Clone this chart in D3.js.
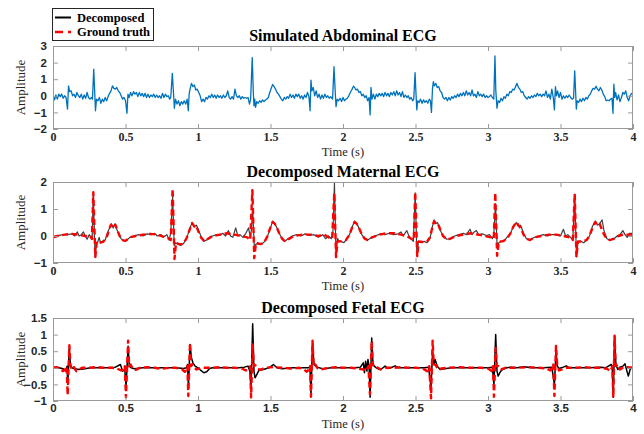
<!DOCTYPE html>
<html>
<head>
<meta charset="utf-8">
<script src="https://cdn.jsdelivr.net/npm/d3@7"></script>
<style>
  html, body { margin: 0; padding: 0; background: #fff; }
  svg { display: block; }
</style>
</head>
<body>
<svg id="chart" width="644" height="434"></svg>
<script>
// ---- data: [time (s), amplitude] ----
const abdominal = [
  [0.00,0.0],[0.01,-0.25],[0.02,0.05],[0.03,-0.2],[0.04,0.1],[0.05,-0.05],[0.06,0.1],[0.07,-0.15],[0.08,0.0],[0.09,-0.1],
  [0.10,-0.8],[0.107,0.6],[0.115,0.25],[0.125,0.3],[0.135,0.0],[0.145,0.1],[0.155,-0.1],[0.165,0.2],[0.175,0.0],[0.185,-0.1],
  [0.195,0.1],[0.205,-0.2],[0.215,0.05],[0.225,-0.15],[0.235,0.2],[0.245,-0.1],[0.255,-0.2],[0.265,-0.1],[0.272,-0.2],
  [0.281,1.6],[0.293,-0.9],[0.30,-0.2],[0.31,-0.3],[0.32,-0.1],[0.33,-0.45],[0.34,-0.2],[0.35,-0.35],[0.36,-0.1],[0.37,-0.3],
  [0.38,-0.05],[0.39,0.15],[0.40,0.3],[0.41,0.6],[0.42,0.45],[0.43,0.4],[0.44,0.5],[0.45,0.3],[0.46,0.2],[0.47,0.0],
  [0.48,-0.2],[0.49,-0.1],[0.50,-0.3],[0.51,-1.05],[0.517,0.1],[0.525,-0.1],[0.535,0.2],[0.545,0.0],[0.555,0.25],[0.565,0.1],
  [0.575,0.2],[0.585,-0.05],[0.595,0.2],[0.605,0.0],[0.615,0.15],[0.625,-0.05],[0.635,0.15],[0.645,-0.1],[0.655,0.1],[0.665,-0.1],
  [0.675,0.05],[0.685,-0.05],[0.695,0.1],[0.705,-0.1],[0.715,0.05],[0.725,-0.1],[0.735,0.0],[0.745,-0.15],[0.755,0.15],[0.765,-0.1],
  [0.775,0.1],[0.785,-0.05],[0.795,0.0],[0.805,-0.2],[0.812,-0.1],[0.823,1.35],[0.83,0.3],[0.837,-0.75],[0.845,-0.2],[0.855,-0.5],
  [0.865,-0.3],[0.875,-0.6],[0.885,-0.35],[0.895,-0.5],[0.905,-0.3],[0.915,-0.5],[0.925,-0.2],[0.933,-0.9],[0.939,0.1],[0.945,0.4],
  [0.955,0.75],[0.965,0.55],[0.975,0.65],[0.985,0.35],[0.995,0.4],[1.005,0.2],[1.015,0.0],[1.025,-0.35],[1.035,-0.2],[1.045,-0.35],
  [1.055,-0.1],[1.065,-0.2],[1.075,0.0],[1.085,-0.1],[1.095,0.1],[1.105,-0.1],[1.115,0.05],[1.125,-0.15],[1.135,0.05],[1.145,-0.1],
  [1.155,0.0],[1.165,-0.15],[1.175,0.05],[1.185,-0.1],[1.195,0.0],[1.205,0.3],[1.215,-0.1],[1.225,-0.2],[1.235,-0.05],[1.245,-0.2],
  [1.255,0.4],[1.265,0.0],[1.275,-0.1],[1.285,0.0],[1.295,-0.2],[1.305,-0.05],[1.315,-0.15],[1.325,-0.1],[1.335,-0.15],[1.345,-0.1],
  [1.355,-0.5],[1.363,-0.2],[1.374,2.3],[1.381,0.3],[1.386,-0.6],[1.391,-0.2],[1.397,-0.7],[1.405,-0.35],[1.415,-0.45],[1.425,-0.3],
  [1.435,-0.4],[1.445,-0.25],[1.455,-0.35],[1.465,-0.25],[1.475,-0.2],[1.485,-0.1],[1.495,0.2],[1.505,0.45],[1.515,0.68],[1.525,0.55],
  [1.535,0.4],[1.545,0.2],[1.555,0.1],[1.565,-0.05],[1.575,-0.2],[1.585,-0.3],[1.595,-0.1],[1.605,-0.2],[1.615,-0.05],[1.625,-0.15],
  [1.635,0.1],[1.645,-0.1],[1.655,0.05],[1.665,-0.15],[1.675,0.1],[1.685,-0.05],[1.695,0.1],[1.705,-0.15],[1.715,0.0],[1.725,-0.2],
  [1.735,0.05],[1.745,-0.1],[1.755,0.2],[1.765,-0.05],[1.773,-0.9],[1.779,0.95],[1.786,0.3],[1.795,0.5],[1.805,0.0],[1.815,0.3],
  [1.825,-0.1],[1.835,0.1],[1.845,-0.2],[1.855,0.05],[1.865,-0.15],[1.875,0.1],[1.885,-0.1],[1.895,0.0],[1.905,-0.15],[1.915,-0.05],
  [1.928,-0.2],[1.938,1.75],[1.946,0.3],[1.952,-0.65],[1.96,-0.2],[1.97,-0.3],[1.98,-0.15],[1.99,-0.35],[2.00,-0.1],[2.01,-0.3],
  [2.02,-0.2],[2.03,-0.15],[2.04,0.0],[2.05,0.2],[2.06,0.35],[2.072,0.58],[2.08,0.5],[2.09,0.35],[2.10,0.4],[2.11,0.2],
  [2.12,0.25],[2.13,0.0],[2.14,0.1],[2.15,-0.1],[2.16,0.0],[2.17,-0.3],[2.18,-0.1],[2.187,-1.15],[2.193,0.5],[2.20,-0.2],
  [2.21,0.1],[2.22,-0.2],[2.23,0.1],[2.24,-0.05],[2.25,0.15],[2.26,0.0],[2.27,0.15],[2.28,-0.05],[2.29,0.2],[2.30,0.0],
  [2.31,0.15],[2.32,-0.05],[2.33,0.2],[2.34,0.05],[2.35,0.25],[2.36,0.0],[2.37,0.3],[2.38,0.05],[2.39,0.2],[2.40,-0.05],
  [2.41,0.25],[2.42,-0.1],[2.43,0.05],[2.44,-0.1],[2.45,0.0],[2.46,-0.2],[2.47,-0.1],[2.48,-0.3],[2.488,-0.2],[2.497,1.4],
  [2.503,0.2],[2.509,-0.85],[2.515,-0.3],[2.525,-0.4],[2.535,-0.2],[2.545,-0.45],[2.555,-0.25],[2.565,-0.4],[2.575,-0.3],[2.585,-0.45],
  [2.595,-0.2],[2.603,-0.3],[2.61,-1.0],[2.617,0.4],[2.623,0.85],[2.63,0.6],[2.64,0.75],[2.65,0.5],[2.66,0.55],[2.67,0.3],
  [2.68,0.2],[2.69,-0.1],[2.70,-0.2],[2.71,-0.1],[2.72,-0.3],[2.73,-0.1],[2.74,-0.25],[2.75,-0.05],[2.76,-0.15],[2.77,0.0],
  [2.78,-0.1],[2.79,0.1],[2.80,-0.05],[2.81,0.15],[2.82,0.0],[2.83,0.2],[2.84,0.0],[2.85,0.3],[2.86,0.05],[2.87,0.2],
  [2.88,0.0],[2.89,0.35],[2.90,0.0],[2.91,0.1],[2.92,-0.1],[2.93,0.25],[2.94,0.0],[2.95,0.1],[2.96,-0.05],[2.97,0.1],
  [2.98,-0.1],[2.99,0.0],[3.00,-0.1],[3.01,-0.05],[3.02,0.05],[3.03,-0.1],[3.04,-0.2],[3.048,2.4],[3.054,0.3],[3.062,-0.75],
  [3.07,-0.3],[3.08,-0.4],[3.09,-0.15],[3.10,-0.3],[3.11,-0.05],[3.12,-0.15],[3.13,0.1],[3.14,0.0],[3.15,0.25],[3.16,0.2],
  [3.17,0.4],[3.18,0.35],[3.19,0.55],[3.20,0.75],[3.21,0.5],[3.22,0.4],[3.23,0.2],[3.24,0.25],[3.25,0.0],[3.26,-0.1],
  [3.27,-0.2],[3.28,-0.05],[3.29,-0.15],[3.30,0.0],[3.31,-0.1],[3.32,0.05],[3.33,-0.05],[3.34,0.15],[3.35,0.0],[3.36,0.1],
  [3.37,-0.05],[3.38,0.1],[3.39,0.0],[3.40,0.3],[3.41,-0.1],[3.42,0.1],[3.43,-0.2],[3.44,0.4],[3.45,-0.1],[3.458,-0.85],
  [3.465,0.55],[3.472,0.0],[3.48,0.3],[3.49,-0.1],[3.50,0.2],[3.51,-0.2],[3.52,0.0],[3.53,-0.15],[3.54,0.0],[3.55,-0.1],
  [3.56,0.05],[3.57,-0.1],[3.58,-0.2],[3.59,-0.15],[3.598,1.5],[3.604,0.3],[3.609,-0.8],[3.615,-0.3],[3.625,-0.4],[3.635,-0.2],
  [3.645,-0.35],[3.655,-0.15],[3.665,-0.3],[3.675,-0.1],[3.685,-0.2],[3.695,0.0],[3.705,0.1],[3.715,0.3],[3.725,0.45],[3.735,0.4],
  [3.745,0.58],[3.755,0.4],[3.765,0.3],[3.775,0.5],[3.785,0.35],[3.795,0.1],[3.805,-0.05],[3.815,-0.3],[3.825,-0.25],[3.835,-0.3],
  [3.845,-0.2],[3.855,-0.15],[3.862,-1.05],[3.868,0.7],[3.874,-0.1],[3.88,0.2],[3.89,-0.25],[3.90,0.05],[3.91,-0.35],[3.92,-0.1],
  [3.93,0.2],[3.94,0.1],[3.95,0.3],[3.96,-0.1],[3.97,-0.3],[3.98,0.0],[3.99,0.15],[4.00,0.1]
];

const maternalDecomposed = [
  [0.00,-0.1],[0.015,0.0],[0.04,0.02],[0.07,0.05],[0.10,0.05],[0.13,0.08],[0.15,0.0],[0.168,0.15],[0.18,0.0],[0.195,0.05],
  [0.21,0.15],[0.222,0.0],[0.235,-0.12],[0.25,0.05],[0.262,-0.05],[0.27,-0.12],[0.278,1.6],[0.29,-0.75],[0.30,-0.3],[0.31,-0.2],
  [0.318,-0.05],[0.328,-0.25],[0.34,-0.2],[0.36,-0.15],[0.375,0.1],[0.39,0.3],[0.402,0.45],[0.415,0.3],[0.428,0.45],[0.44,0.25],
  [0.455,0.05],[0.47,-0.1],[0.49,-0.18],[0.51,-0.15],[0.53,-0.05],[0.56,0.0],[0.59,0.05],[0.62,0.0],[0.65,0.08],[0.68,0.05],
  [0.70,0.1],[0.72,0.0],[0.745,0.05],[0.76,-0.05],[0.785,0.05],[0.80,-0.15],[0.812,0.1],[0.825,1.45],[0.836,-0.35],[0.846,-0.25],
  [0.86,-0.3],[0.88,-0.35],[0.90,-0.28],[0.915,-0.15],[0.93,0.05],[0.945,0.3],[0.96,0.5],[0.975,0.35],[0.99,0.4],[1.005,0.2],
  [1.02,0.0],[1.04,-0.2],[1.06,-0.15],[1.08,-0.05],[1.10,0.0],[1.13,0.05],[1.15,0.02],[1.17,0.1],[1.19,0.0],[1.21,0.2],
  [1.225,0.0],[1.24,-0.05],[1.26,0.3],[1.275,0.0],[1.29,0.05],[1.31,-0.05],[1.33,0.1],[1.348,0.3],[1.36,0.0],[1.368,0.2],
  [1.377,1.0],[1.388,-0.4],[1.40,-0.3],[1.42,-0.28],[1.44,-0.3],[1.46,-0.2],[1.48,0.0],[1.50,0.3],[1.515,0.55],[1.53,0.45],
  [1.545,0.3],[1.56,0.1],[1.58,-0.1],[1.60,-0.2],[1.62,-0.1],[1.65,0.0],[1.68,0.05],[1.71,0.0],[1.74,0.08],[1.77,0.02],
  [1.80,0.05],[1.83,-0.05],[1.86,0.05],[1.88,-0.1],[1.90,0.0],[1.92,-0.1],[1.93,0.05],[1.941,1.96],[1.952,-0.78],[1.962,-0.1],
  [1.975,-0.2],[1.99,-0.2],[2.005,-0.25],[2.02,-0.15],[2.045,0.05],[2.065,0.35],[2.08,0.55],[2.095,0.45],[2.11,0.3],[2.13,0.05],
  [2.15,-0.1],[2.17,-0.15],[2.20,-0.05],[2.23,0.02],[2.26,0.08],[2.29,0.05],[2.32,0.1],[2.35,0.05],[2.38,0.08],[2.40,0.15],
  [2.415,0.0],[2.44,0.2],[2.455,0.0],[2.47,-0.1],[2.485,-0.2],[2.498,1.6],[2.51,-0.73],[2.52,-0.22],[2.54,-0.25],[2.56,-0.2],
  [2.58,-0.25],[2.60,-0.1],[2.615,0.3],[2.628,0.6],[2.64,0.45],[2.652,0.5],[2.668,0.25],[2.69,0.0],[2.715,-0.12],[2.74,-0.1],
  [2.77,0.0],[2.80,0.05],[2.83,0.1],[2.85,0.05],[2.876,0.25],[2.89,0.05],[2.905,0.15],[2.92,0.2],[2.935,0.05],[2.96,0.08],
  [2.99,0.02],[3.01,0.05],[3.03,-0.1],[3.04,0.05],[3.052,1.2],[3.063,-0.4],[3.075,-0.25],[3.09,-0.2],[3.11,-0.2],[3.13,-0.05],
  [3.155,0.1],[3.175,0.35],[3.195,0.5],[3.21,0.35],[3.225,0.4],[3.245,0.1],[3.265,-0.1],[3.29,-0.15],[3.32,-0.05],[3.35,0.0],
  [3.38,0.05],[3.41,0.0],[3.44,0.05],[3.47,0.05],[3.50,0.0],[3.52,0.25],[3.535,0.0],[3.55,0.05],[3.57,-0.05],[3.585,-0.15],
  [3.598,1.55],[3.61,-0.78],[3.62,-0.25],[3.64,-0.2],[3.66,-0.25],[3.68,-0.15],[3.70,0.0],[3.72,0.35],[3.74,0.55],[3.755,0.4],
  [3.77,0.45],[3.787,0.6],[3.80,0.2],[3.82,-0.1],[3.84,-0.15],[3.87,-0.1],[3.89,0.0],[3.91,0.05],[3.93,0.2],[3.945,0.05],
  [3.96,-0.05],[3.975,0.1],[4.00,0.1]
];

const maternalTruth = [
  [0.00,-0.05],[0.03,0.0],[0.08,0.05],[0.13,0.08],[0.18,0.05],[0.22,0.0],[0.255,0.0],[0.268,-0.1],[0.278,1.62],[0.292,-0.78],
  [0.302,-0.2],[0.32,-0.25],[0.345,-0.22],[0.37,-0.05],[0.385,0.2],[0.40,0.42],[0.415,0.3],[0.43,0.42],[0.445,0.2],[0.46,0.0],
  [0.48,-0.15],[0.50,-0.18],[0.53,-0.05],[0.57,0.0],[0.62,0.05],[0.67,0.08],[0.72,0.05],[0.76,-0.02],[0.80,-0.1],[0.812,-0.15],
  [0.825,1.75],[0.838,-0.85],[0.848,-0.25],[0.87,-0.3],[0.895,-0.3],[0.92,-0.1],[0.94,0.2],[0.96,0.48],[0.975,0.35],[0.985,0.4],
  [1.00,0.2],[1.02,-0.05],[1.045,-0.2],[1.07,-0.1],[1.10,0.0],[1.15,0.05],[1.20,0.1],[1.25,0.05],[1.30,0.0],[1.34,-0.05],
  [1.36,-0.15],[1.375,1.7],[1.388,-0.82],[1.40,-0.25],[1.43,-0.3],[1.455,-0.25],[1.475,-0.05],[1.495,0.25],[1.515,0.52],[1.53,0.45],
  [1.545,0.3],[1.56,0.1],[1.58,-0.1],[1.60,-0.2],[1.63,-0.1],[1.66,0.0],[1.72,0.05],[1.78,0.05],[1.83,0.0],[1.87,0.05],
  [1.90,-0.05],[1.925,-0.1],[1.94,1.6],[1.952,-0.78],[1.962,-0.2],[1.99,-0.2],[2.02,-0.15],[2.045,0.05],[2.065,0.35],[2.08,0.52],
  [2.095,0.45],[2.11,0.3],[2.13,0.05],[2.15,-0.1],[2.17,-0.15],[2.20,-0.05],[2.25,0.05],[2.30,0.1],[2.35,0.1],[2.40,0.05],
  [2.44,0.0],[2.47,-0.1],[2.488,-0.15],[2.498,1.63],[2.512,-0.75],[2.522,-0.2],[2.55,-0.22],[2.58,-0.2],[2.60,-0.05],[2.615,0.3],
  [2.628,0.55],[2.64,0.45],[2.655,0.45],[2.67,0.25],[2.69,0.0],[2.715,-0.12],[2.74,-0.1],[2.78,0.0],[2.83,0.05],[2.88,0.1],
  [2.93,0.05],[2.98,0.0],[3.02,-0.05],[3.04,-0.1],[3.05,1.6],[3.063,-0.73],[3.075,-0.2],[3.10,-0.2],[3.13,-0.1],[3.155,0.1],
  [3.175,0.35],[3.195,0.52],[3.21,0.4],[3.225,0.3],[3.245,0.05],[3.265,-0.1],[3.29,-0.15],[3.32,-0.05],[3.37,0.0],[3.42,0.05],
  [3.47,0.05],[3.52,0.0],[3.56,-0.05],[3.585,-0.15],[3.598,1.57],[3.61,-0.78],[3.62,-0.2],[3.65,-0.2],[3.68,-0.15],[3.70,0.0],
  [3.72,0.3],[3.74,0.52],[3.755,0.4],[3.77,0.45],[3.785,0.25],[3.80,0.05],[3.82,-0.1],[3.84,-0.15],[3.87,-0.1],[3.90,0.0],
  [3.93,0.05],[3.96,0.05],[4.00,0.05]
];

const fetalDecomposed = [
  [0.00,0.02],[0.04,0.0],[0.07,-0.03],[0.09,-0.1],[0.097,0.05],[0.102,-0.5],[0.112,0.6],[0.12,0.1],[0.13,0.0],[0.15,-0.03],
  [0.18,-0.05],[0.22,-0.03],[0.26,0.0],[0.32,0.0],[0.38,0.0],[0.43,0.02],[0.465,0.1],[0.48,-0.1],[0.495,-0.05],[0.504,-0.55],
  [0.518,0.65],[0.526,0.05],[0.54,0.0],[0.56,-0.03],[0.62,0.0],[0.70,0.0],[0.78,0.0],[0.85,0.0],[0.90,-0.02],[0.92,0.0],
  [0.928,0.1],[0.934,-0.6],[0.945,0.7],[0.955,0.3],[0.965,0.15],[0.98,0.05],[1.00,0.0],[1.02,-0.08],[1.04,-0.15],[1.06,-0.12],
  [1.08,-0.02],[1.10,0.0],[1.20,0.0],[1.28,0.0],[1.32,0.02],[1.345,0.05],[1.358,-0.1],[1.366,-0.7],[1.377,1.33],[1.386,-0.1],
  [1.393,-0.3],[1.40,-0.25],[1.42,-0.08],[1.45,-0.05],[1.49,0.0],[1.52,0.1],[1.545,0.0],[1.58,-0.03],[1.64,0.0],[1.72,0.0],
  [1.76,0.0],[1.772,0.02],[1.779,-0.8],[1.79,0.75],[1.80,0.1],[1.82,0.02],[1.86,-0.03],[1.92,0.0],[2.00,0.0],[2.08,0.0],
  [2.12,0.02],[2.14,0.15],[2.148,-0.15],[2.156,0.2],[2.165,-0.1],[2.172,0.25],[2.18,0.05],[2.187,-0.89],[2.198,0.9],[2.207,0.1],
  [2.215,0.05],[2.23,0.0],[2.25,-0.05],[2.27,-0.02],[2.29,0.05],[2.31,-0.02],[2.33,0.0],[2.36,0.06],[2.38,0.0],[2.42,0.0],
  [2.50,0.0],[2.56,0.0],[2.59,0.02],[2.607,-0.6],[2.618,0.5],[2.627,0.1],[2.635,0.25],[2.65,0.05],[2.67,-0.05],[2.70,-0.03],
  [2.75,0.0],[2.85,0.0],[2.95,0.0],[3.00,0.0],[3.03,0.02],[3.041,-0.5],[3.053,1.0],[3.062,-0.1],[3.07,-0.25],[3.085,-0.12],
  [3.10,-0.05],[3.13,0.0],[3.16,0.02],[3.20,0.0],[3.25,0.03],[3.30,0.0],[3.38,0.0],[3.44,0.02],[3.458,-0.5],[3.469,0.5],
  [3.478,0.05],[3.49,-0.02],[3.52,0.02],[3.54,0.06],[3.56,0.0],[3.62,0.0],[3.70,0.0],[3.78,0.02],[3.81,0.0],[3.83,0.05],
  [3.85,0.1],[3.857,-0.05],[3.864,-0.89],[3.873,0.95],[3.882,0.1],[3.895,-0.05],[3.91,0.02],[3.93,0.05],[3.945,0.12],[3.958,-0.1],
  [3.968,-0.25],[3.98,-0.05],[4.00,0.05]
];

const fetalTruth = [
  [0.00,0.0],[0.03,0.02],[0.05,-0.05],[0.07,-0.1],[0.085,-0.05],[0.094,0.05],[0.101,-0.82],[0.113,0.68],[0.12,0.05],[0.13,-0.05],
  [0.145,0.02],[0.16,-0.1],[0.18,-0.05],[0.20,0.0],[0.25,0.0],[0.30,0.02],[0.35,0.0],[0.40,0.0],[0.44,-0.02],[0.47,-0.08],
  [0.485,-0.05],[0.495,0.05],[0.503,-0.89],[0.518,0.82],[0.525,0.05],[0.535,0.1],[0.55,-0.02],[0.57,-0.06],[0.60,0.0],[0.65,0.02],
  [0.70,0.0],[0.75,-0.03],[0.80,0.0],[0.85,0.0],[0.89,-0.05],[0.91,-0.12],[0.922,-0.05],[0.927,0.05],[0.933,-0.85],[0.945,0.75],
  [0.952,0.05],[0.962,0.1],[0.975,0.0],[0.99,-0.05],[1.02,0.0],[1.10,0.0],[1.15,0.02],[1.20,0.0],[1.25,0.0],[1.30,-0.02],
  [1.33,-0.08],[1.35,-0.05],[1.36,0.05],[1.366,-0.89],[1.377,0.7],[1.385,0.05],[1.395,0.08],[1.41,-0.02],[1.43,-0.06],[1.46,0.0],
  [1.52,0.02],[1.58,0.0],[1.64,-0.02],[1.70,0.0],[1.73,-0.05],[1.75,-0.12],[1.765,-0.05],[1.773,0.05],[1.779,-0.87],[1.79,0.82],
  [1.797,0.05],[1.81,0.1],[1.825,-0.02],[1.85,-0.05],[1.90,0.0],[1.95,0.02],[2.00,0.0],[2.05,0.0],[2.10,-0.02],[2.14,-0.05],
  [2.16,-0.1],[2.175,0.05],[2.186,-0.8],[2.198,0.8],[2.205,0.08],[2.22,0.1],[2.24,0.0],[2.26,-0.05],[2.30,0.0],[2.35,0.0],
  [2.40,0.02],[2.45,0.0],[2.50,0.0],[2.55,-0.02],[2.58,-0.1],[2.595,0.05],[2.607,-0.92],[2.618,0.82],[2.626,0.1],[2.64,0.08],
  [2.655,-0.05],[2.68,-0.02],[2.72,0.0],[2.80,0.02],[2.88,0.0],[2.95,0.0],[3.00,-0.02],[3.025,-0.1],[3.035,0.05],[3.041,-0.87],
  [3.053,0.6],[3.06,0.05],[3.075,0.05],[3.09,-0.05],[3.12,0.0],[3.20,0.0],[3.28,0.02],[3.35,0.0],[3.40,-0.02],[3.43,-0.08],
  [3.45,0.1],[3.458,-0.85],[3.469,0.66],[3.477,0.1],[3.49,-0.08],[3.51,-0.05],[3.54,0.0],[3.60,0.0],[3.66,0.02],[3.72,0.0],
  [3.78,0.0],[3.82,-0.03],[3.845,-0.1],[3.858,0.05],[3.864,-0.89],[3.873,0.97],[3.88,0.05],[3.895,0.1],[3.91,-0.05],[3.93,0.0],
  [3.96,0.02],[4.00,0.0]
];

// ---- axis settings ----
const timeTicks = [0, 0.5, 1, 1.5, 2, 2.5, 3, 3.5, 4];
const abdTicks = [-2, -1, 0, 1, 2, 3];
const matTicks = [-1, 0, 1, 2];
const fetTicks = [-1, -0.5, 0, 0.5, 1, 1.5];
const titles = ["Simulated Abdominal ECG", "Decomposed Maternal ECG", "Decomposed Fetal ECG"];
const legendLabels = ["Decomposed", "Ground truth"];

const svg = d3.select("#chart");
const left = 53, right = 633;
const SERIF = "'Liberation Serif', 'Times New Roman', serif";
const SANS = "'Liberation Sans', Arial, sans-serif";
const AX = "#262626";

const x = d3.scaleLinear().domain([0, 4]).range([left, right]);

function panel(idx, top, bottom, yDomain, yTicks, xTickFont, series) {
  const y = d3.scaleLinear().domain(yDomain).range([bottom, top]);
  const g = svg.append("g");
  const clipId = "clip" + idx;
  svg.append("clipPath").attr("id", clipId)
    .append("rect").attr("x", left).attr("y", top).attr("width", right - left).attr("height", bottom - top);

  // signal traces
  const line = d3.line().x(d => x(d[0])).y(d => y(d[1]));
  const lines = g.append("g").attr("clip-path", `url(#${clipId})`);
  series.forEach(s => {
    lines.append("path").datum(s.data)
      .attr("d", line)
      .attr("fill", "none")
      .attr("stroke", s.color)
      .attr("stroke-width", s.width)
      .attr("stroke-linejoin", "round")
      .attr("stroke-dasharray", s.dash || null);
  });

  // inward ticks on all four sides
  const tl = 5;
  const xb = d3.axisBottom(x).tickValues(timeTicks).tickSize(-tl).tickPadding(3).tickFormat(d3.format("~g"));
  const xt = d3.axisTop(x).tickValues(timeTicks).tickSize(-tl).tickFormat("");
  const yl = d3.axisLeft(y).tickValues(yTicks).tickSize(-tl).tickPadding(6).tickFormat(d3.format("~g"));
  const yr = d3.axisRight(y).tickValues(yTicks).tickSize(-tl).tickFormat("");

  const gxb = g.append("g").attr("transform", `translate(0,${bottom})`).call(xb);
  g.append("g").attr("transform", `translate(0,${top})`).call(xt);
  const gyl = g.append("g").attr("transform", `translate(${left},0)`).call(yl);
  g.append("g").attr("transform", `translate(${right},0)`).call(yr);
  g.selectAll(".domain").remove();
  g.selectAll(".tick line").attr("stroke", "#9a9a9a");

  gxb.selectAll("text").attr("font-family", xTickFont === "serif" ? SERIF : SANS)
    .attr("font-size", xTickFont === "serif" ? 12 : 11.5).attr("font-weight", "bold").attr("fill", AX);
  gyl.selectAll("text").attr("font-family", SANS).attr("font-size", 11.5)
    .attr("font-weight", "bold").attr("fill", AX);

  // box
  g.append("rect").attr("x", left + 0.5).attr("y", top + 0.5)
    .attr("width", right - left - 1).attr("height", bottom - top - 1)
    .attr("fill", "none").attr("stroke", "#9a9a9a").attr("stroke-width", 1);

  // title, axis labels
  g.append("text").attr("x", (left + right) / 2).attr("y", top - 5.5)
    .attr("text-anchor", "middle").attr("font-family", SERIF).attr("font-weight", "bold")
    .attr("font-size", 16).attr("fill", "#000").text(titles[idx]);
  g.append("text").attr("x", (left + right) / 2).attr("y", bottom + 27)
    .attr("text-anchor", "middle").attr("font-family", SERIF)
    .attr("font-size", 12.5).attr("fill", AX).text("Time (s)");
  g.append("text")
    .attr("transform", `translate(25,${(top + bottom) / 2}) rotate(-90)`)
    .attr("text-anchor", "middle").attr("font-family", SERIF)
    .attr("font-size", 13).attr("fill", AX).text("Amplitude");
}

panel(0, 46, 129, [-2, 3], abdTicks, "serif", [
  { data: abdominal, color: "#0072BD", width: 1.3 }
]);
panel(1, 182, 263, [-1, 2], matTicks, "serif", [
  { data: maternalDecomposed, color: "#404040", width: 1.2 },
  { data: maternalTruth, color: "#ff0000", width: 2.4, dash: "6,3.5" }
]);
panel(2, 318, 401, [-1, 1.5], fetTicks, "sans", [
  { data: fetalDecomposed, color: "#000000", width: 1.5 },
  { data: fetalTruth, color: "#ff0000", width: 2.4, dash: "6,3.5" }
]);

// legend
const lg = svg.append("g");
lg.append("rect").attr("x", 52.5).attr("y", 8.5).attr("width", 101).attr("height", 32)
  .attr("fill", "#fff").attr("stroke", "#262626").attr("stroke-width", 1);
const legendStyles = [
  { color: "#000", width: 2, dash: null },
  { color: "#ff0000", width: 2.4, dash: "8,5" }
];
legendLabels.forEach((label, i) => {
  const yy = 17.5 + i * 14.5;
  lg.append("line").attr("x1", 55).attr("x2", 71).attr("y1", yy).attr("y2", yy)
    .attr("stroke", legendStyles[i].color).attr("stroke-width", legendStyles[i].width)
    .attr("stroke-dasharray", legendStyles[i].dash);
  lg.append("text").attr("x", 77).attr("y", yy + 4.2)
    .attr("font-family", SERIF).attr("font-weight", "bold").attr("font-size", 12.5)
    .attr("fill", "#000").text(label);
});
</script>
</body>
</html>
